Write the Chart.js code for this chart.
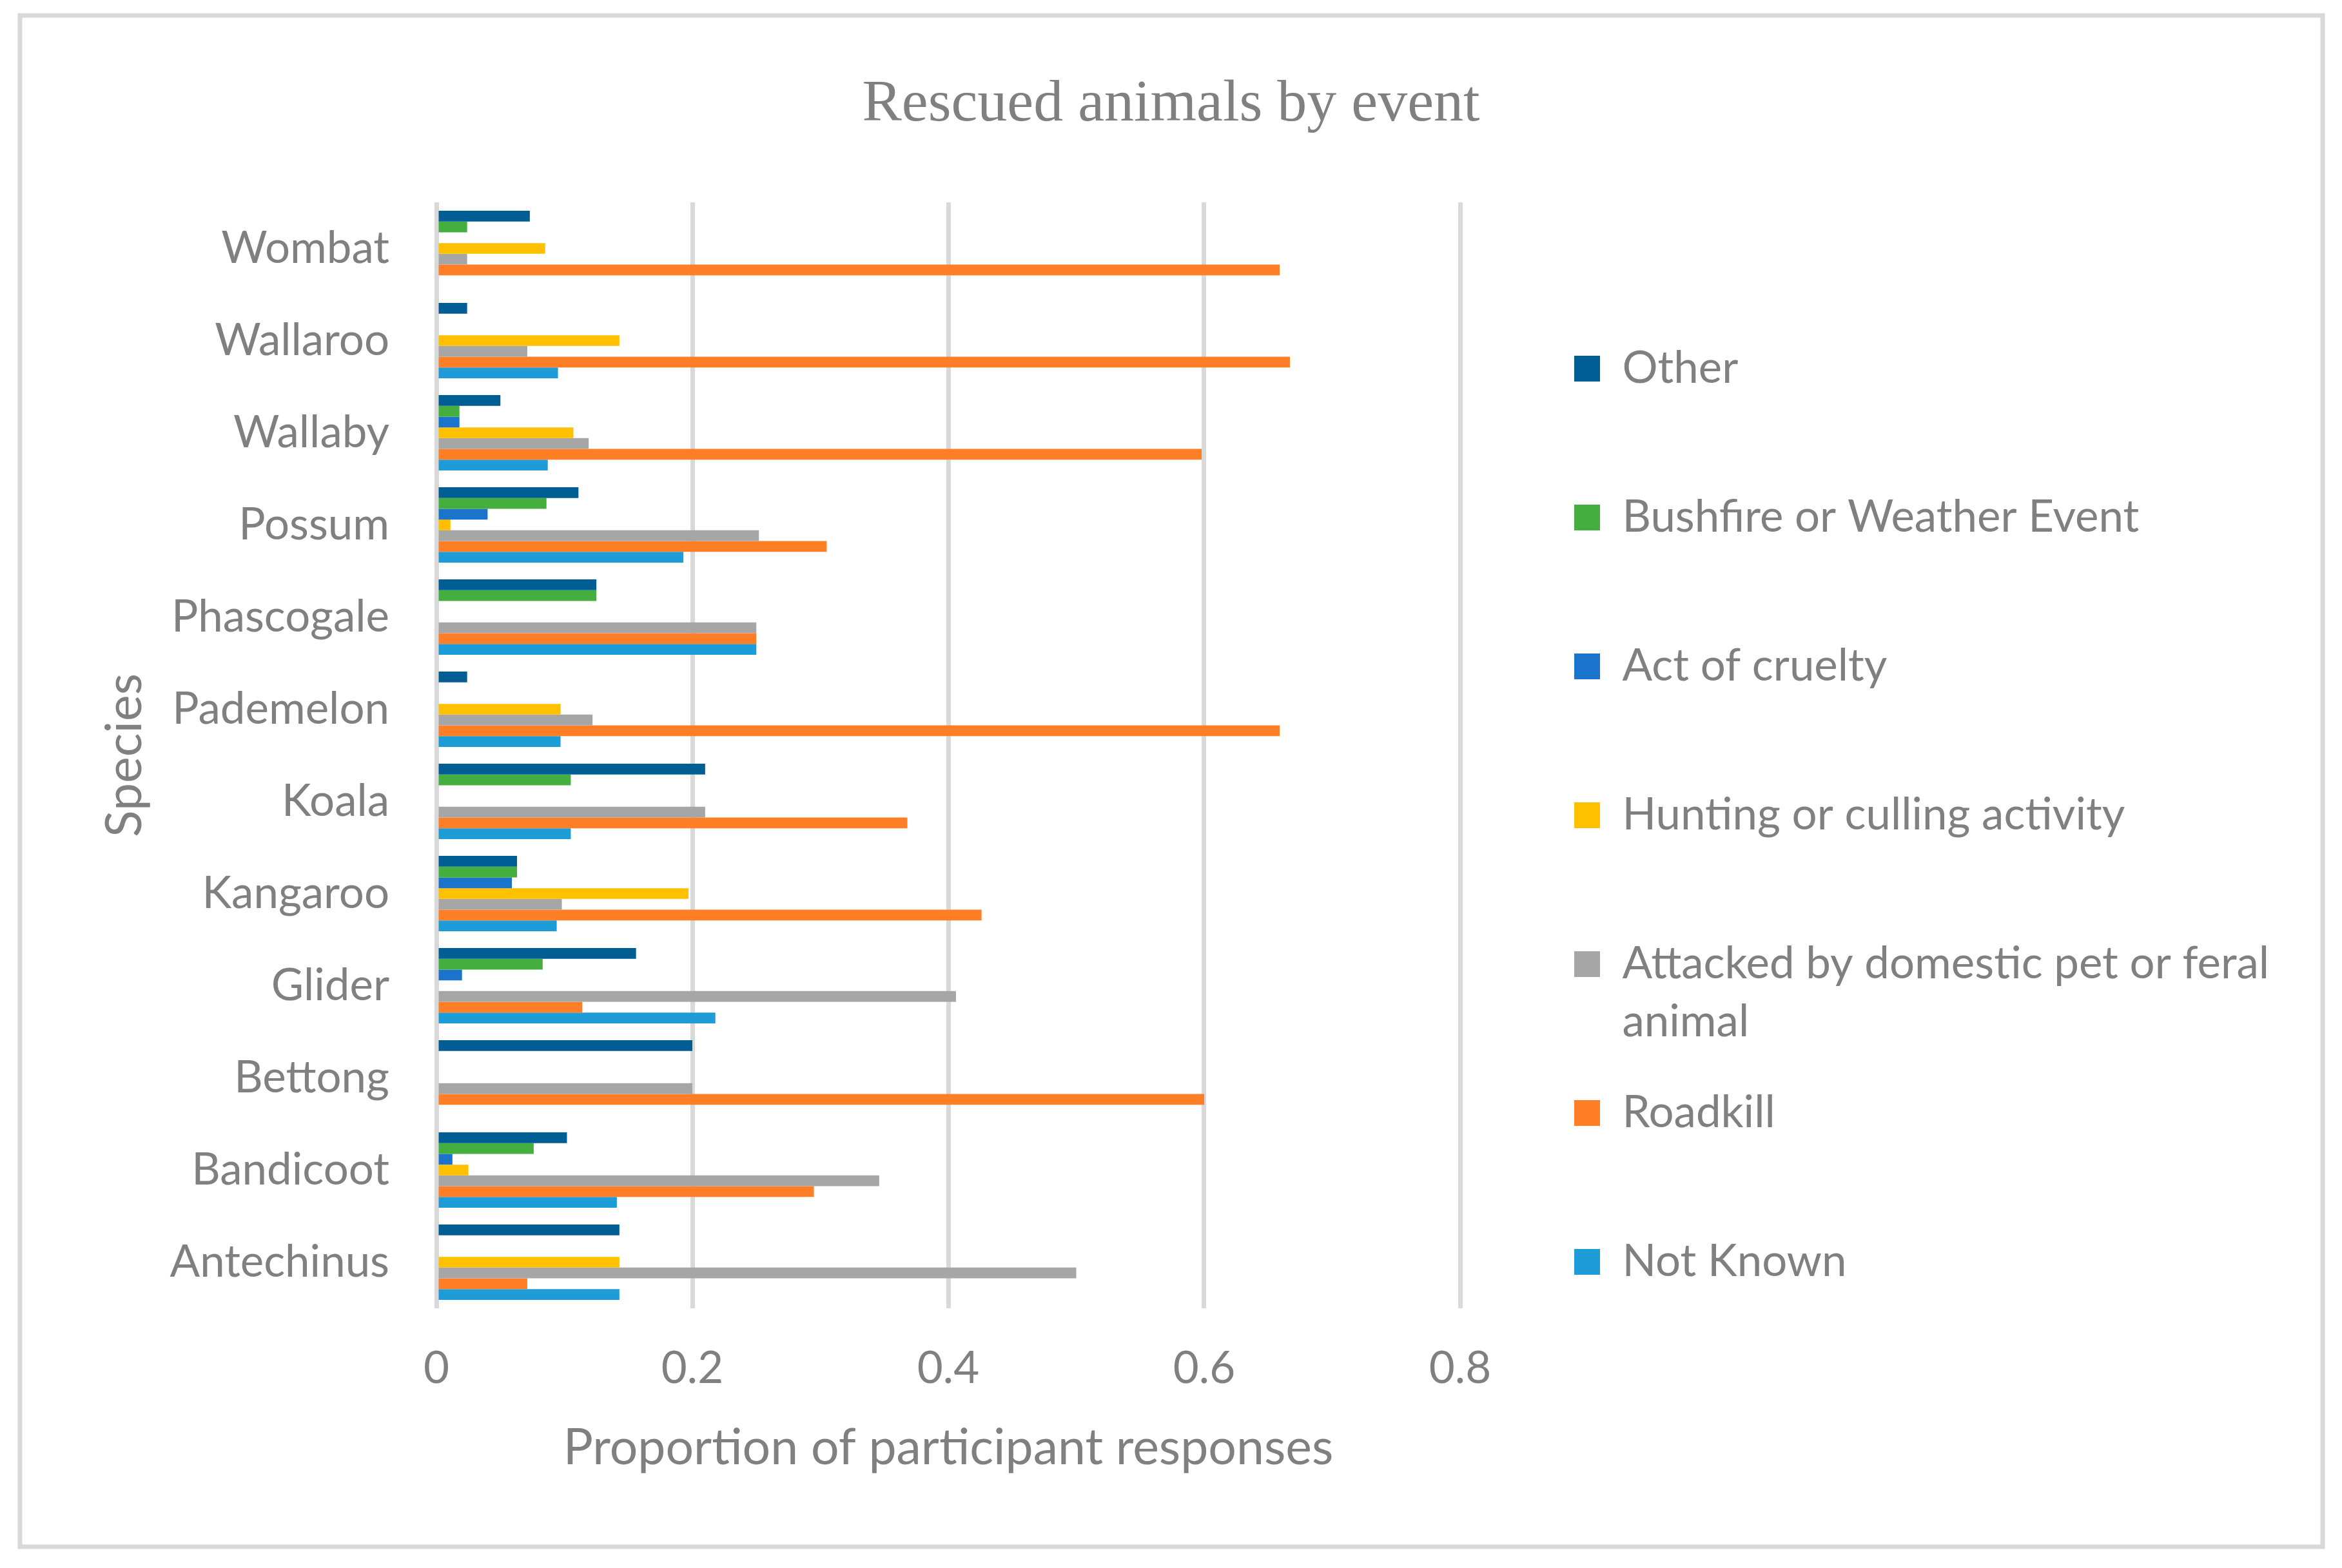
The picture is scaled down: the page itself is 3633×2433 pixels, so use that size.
<!DOCTYPE html>
<html>
<head>
<meta charset="utf-8">
<title>Rescued animals by event</title>
<script src="https://cdn.jsdelivr.net/npm/chart.js@4.4.1/dist/chart.umd.min.js"></script>
<style>
  html, body { margin: 0; padding: 0; background: #ffffff; }
  #wrap { position: relative; width: 3633px; height: 2433px; }
</style>
</head>
<body>
<div id="wrap"><canvas id="chart"></canvas></div>
<script>
// ---------------- data ----------------
const categories = ['Antechinus', 'Bandicoot', 'Bettong', 'Glider', 'Kangaroo', 'Koala',
                    'Pademelon', 'Phascogale', 'Possum', 'Wallaby', 'Wallaroo', 'Wombat'];

const seriesNames = ['Other', 'Bushfire or Weather Event', 'Act of cruelty',
                     'Hunting or culling activity', 'Attacked by domestic pet or feral animal',
                     'Roadkill', 'Not Known'];

const other     = [0.143, 0.102, 0.200, 0.156, 0.063, 0.210, 0.024, 0.125, 0.111, 0.050, 0.024, 0.073];
const bushfire  = [0.000, 0.076, 0.000, 0.083, 0.063, 0.105, 0.000, 0.125, 0.086, 0.018, 0.000, 0.024];
const cruelty   = [0.000, 0.0125, 0.000, 0.020, 0.059, 0.000, 0.000, 0.000, 0.040, 0.018, 0.000, 0.000];
const hunting   = [0.143, 0.025, 0.000, 0.000, 0.197, 0.000, 0.097, 0.000, 0.011, 0.107, 0.143, 0.085];
const attacked  = [0.500, 0.346, 0.200, 0.406, 0.098, 0.210, 0.122, 0.250, 0.252, 0.119, 0.071, 0.024];
const roadkill  = [0.071, 0.295, 0.600, 0.114, 0.426, 0.368, 0.659, 0.250, 0.305, 0.598, 0.667, 0.659];
const notKnown  = [0.143, 0.141, 0.000, 0.218, 0.094, 0.105, 0.097, 0.250, 0.193, 0.087, 0.095, 0.000];

const xTickValues = [0, 0.2, 0.4, 0.6, 0.8];

// ---------------- styles ----------------
const seriesColors = ['#005E95', '#44AF3E', '#1B74CC', '#FFC000', '#A6A6A6', '#FF7F27', '#1E9CD8'];
const textColor = '#808080';
const gridColor = '#D9D9D9';

const seriesValues = [other, bushfire, cruelty, hunting, attacked, roadkill, notKnown];

const datasets = seriesNames.map((name, i) => ({
  label: name,
  data: seriesValues[i],
  backgroundColor: seriesColors[i],
  borderWidth: 0,
  xAxisID: 'x',
  yAxisID: 'y',
  categoryPercentage: 0.818,
  barPercentage: 1.0
}));

// wrap legend text like the office legend does (max characters per line)
function wrapLegend(text, maxChars) {
  const words = text.split(' ');
  const lines = [];
  let cur = '';
  words.forEach(w => {
    const trial = cur ? cur + ' ' + w : w;
    if (trial.length > maxChars && cur) { lines.push(cur); cur = w; } else { cur = trial; }
  });
  if (cur) lines.push(cur);
  while (lines.length < 2) lines.push('');
  return lines;
}

// ---------------- layout helpers ----------------
const CANVAS_W = 3633;
const PLOT_LEFT = 677;          // pixel of x = 0
const LEGEND_BOX_LEFT = 2442;   // left edge of legend swatches
const LEGEND_PAD = 51;
const LEGEND_BOX = 40;
const LEGEND_FONT = 69;
const LEGEND_CHARS = 34;

const measureCtx = document.createElement('canvas').getContext('2d');
measureCtx.font = 'normal ' + LEGEND_FONT + 'px Lato';
let longestLine = '';
seriesNames.forEach(n => wrapLegend(n, LEGEND_CHARS).forEach(l => { if (l.length > longestLine.length) longestLine = l; }));
const legendNatural = LEGEND_PAD + LEGEND_BOX + LEGEND_FONT / 2 + measureCtx.measureText(longestLine).width + 10;
const legendLeft = LEGEND_BOX_LEFT - LEGEND_PAD;
const sidePad = Math.max(0, CANVAS_W - legendLeft - legendNatural);
const yAxisWidth = PLOT_LEFT - sidePad;
const rightGap = legendLeft - 2265;   // space between plot right edge (x = 0.8) and legend

const framePlugin = {
  id: 'frame',
  beforeDraw(chart) {
    const c = chart.ctx;
    c.save();
    c.fillStyle = '#ffffff';
    c.fillRect(0, 0, chart.width, chart.height);
    c.strokeStyle = gridColor;
    c.lineWidth = 7;
    c.strokeRect(31, 24, 3572, 2376);
    c.restore();
  }
};

Chart.defaults.font.family = 'Lato';
Chart.defaults.color = textColor;

new Chart(document.getElementById('chart'), {
  type: 'bar',
  data: { labels: categories, datasets: datasets },
  plugins: [framePlugin],
  options: {
    indexAxis: 'y',
    responsive: true,
    maintainAspectRatio: false,
    devicePixelRatio: 1,
    animation: false,
    layout: { padding: { left: sidePad, right: sidePad, top: 0, bottom: 0 } },
    scales: {
      x: {
        type: 'linear',
        position: 'bottom',
        min: 0,
        max: 0.8,
        afterBuildTicks(scale) { scale.ticks = xTickValues.map(v => ({ value: v })); },
        ticks: { font: { family: 'Lato', size: 69 }, color: textColor, padding: 52.6 },
        grid: { color: gridColor, lineWidth: 7, drawTicks: false },
        border: { display: false },
        title: {
          display: true,
          text: 'Proportion of participant responses',
          font: { family: 'Lato', size: 77 },
          color: textColor,
          padding: { top: -17, bottom: 139.6 }
        }
      },
      y: {
        type: 'category',
        position: 'left',
        reverse: true,
        ticks: { font: { family: 'Lato', size: 69 }, color: textColor, padding: 73 },
        grid: { display: false, drawTicks: false },
        border: { display: false },
        title: {
          display: true,
          text: 'Species',
          font: { family: 'Lato', size: 77 },
          color: textColor,
          padding: { top: 194 - 46.2 - sidePad, bottom: 0 }
        },
        afterFit(scale) { scale.width = yAxisWidth; }
      },
      y2: {
        type: 'linear',
        position: 'right',
        display: true,
        ticks: { display: false },
        grid: { display: false, drawTicks: false },
        border: { display: false },
        afterFit(scale) { scale.width = rightGap; }
      }
    },
    plugins: {
      title: {
        display: true,
        text: 'Rescued animals by event',
        font: { family: 'Liberation Serif', size: 92, weight: 'normal' },
        color: textColor,
        padding: { top: 108, bottom: 95.6 }
      },
      legend: {
        display: true,
        position: 'right',
        align: 'start',
        maxWidth: legendNatural + 4,
        title: { display: true, text: ' ', font: { size: 10 }, padding: { top: 474.5, bottom: 0 } },
        labels: {
          font: { family: 'Lato', size: LEGEND_FONT, lineHeight: '90px' },
          color: textColor,
          boxWidth: LEGEND_BOX,
          boxHeight: LEGEND_BOX,
          padding: LEGEND_PAD,
          generateLabels(chart) {
            const items = Chart.defaults.plugins.legend.labels.generateLabels(chart);
            items.forEach(it => { it.text = wrapLegend(it.text, LEGEND_CHARS); it.lineWidth = 0; });
            return items;
          }
        }
      },
      tooltip: { enabled: false }
    }
  }
});
</script>
</body>
</html>
